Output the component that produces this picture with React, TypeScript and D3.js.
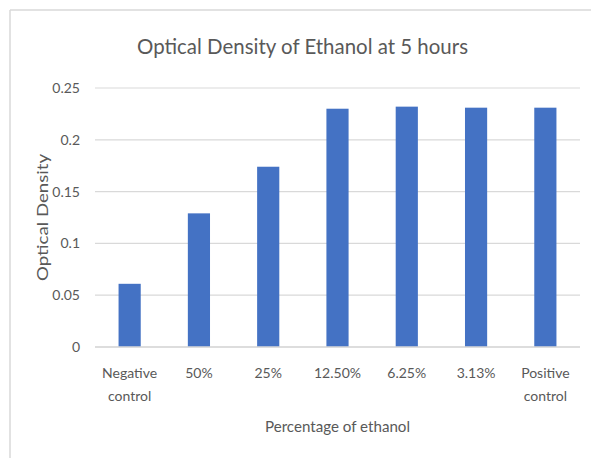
import React from "react";
import * as d3 from "d3";

const categories = ["Negative control", "50%", "25%", "12.50%", "6.25%", "3.13%", "Positive control"];
const categoryLines = [["Negative", "control"], ["50%"], ["25%"], ["12.50%"], ["6.25%"], ["3.13%"], ["Positive", "control"]];
const values = [0.061, 0.129, 0.174, 0.230, 0.232, 0.231, 0.231];
const yTicks = [0, 0.05, 0.1, 0.15, 0.2, 0.25];
const yTickLabels = ["0", "0.05", "0.1", "0.15", "0.2", "0.25"];
const title = "Optical Density of Ethanol at 5 hours";
const xTitle = "Percentage of ethanol";
const yTitle = "Optical Density";

const W = 591;
const H = 458;
const left = 95, right = 580, top = 88, bottom = 347;
const font = "Lato, 'Open Sans', sans-serif";
const textColor = "#595959";
const gridColor = "#d9d9d9";

export default function App() {
  const x = d3.scaleBand<string>().domain(categories).range([left, right]).paddingInner(0.68).paddingOuter(0.34);
  const y = d3.scaleLinear().domain([0, 0.25]).range([bottom, top]);
  return (
    <svg width={W} height={H} style={{ position: "absolute", left: 0, top: 0, background: "#fff" }}>
      <rect x={0} y={0} width={W} height={H} fill="#fff" />
      <line x1={10} y1={10} x2={W} y2={10} stroke={gridColor} strokeWidth={1.5} />
      <line x1={10} y1={10} x2={10} y2={H} stroke={gridColor} strokeWidth={1.5} />
      <text x={302.5} y={54} textAnchor="middle" fontFamily={font} fontSize={22} fill={textColor} textLength={331} lengthAdjust="spacingAndGlyphs">{title}</text>
      {yTicks.map((t, i) => (
        <g key={i}>
          <line x1={left} x2={right} y1={y(t)} y2={y(t)} stroke={gridColor} strokeWidth={1.2} />
          <text x={80} y={y(t)} dy="0.35em" textAnchor="end" fontFamily={font} fontSize={14} fill={textColor}>{yTickLabels[i]}</text>
        </g>
      ))}
      {categories.map((c, i) => (
        <rect key={c} x={x(c)} y={y(values[i])} width={x.bandwidth()} height={y(0) - y(values[i])} fill="#4472C4" />
      ))}
      <line x1={left} x2={right} y1={y(0)} y2={y(0)} stroke={gridColor} strokeWidth={1.5} />
      {categories.map((c, i) => (
        <text key={c} x={(x(c) as number) + x.bandwidth() / 2} y={373} textAnchor="middle" fontFamily={font} fontSize={14} fill={textColor}>
          {categoryLines[i].map((l, j) => (
            <tspan key={j} x={(x(c) as number) + x.bandwidth() / 2} dy={j === 0 ? "0.35em" : 23}>{l}</tspan>
          ))}
        </text>
      ))}
      <text x={(left + right) / 2} y={427} dy="0.35em" textAnchor="middle" fontFamily={font} fontSize={15} fill={textColor} textLength={145} lengthAdjust="spacingAndGlyphs">{xTitle}</text>
      <text transform={`translate(42,${(top + bottom) / 2}) rotate(-90)`} dy="0.35em" textAnchor="middle" fontFamily={font} fontSize={16} fill={textColor} textLength={127} lengthAdjust="spacingAndGlyphs">{yTitle}</text>
    </svg>
  );
}
